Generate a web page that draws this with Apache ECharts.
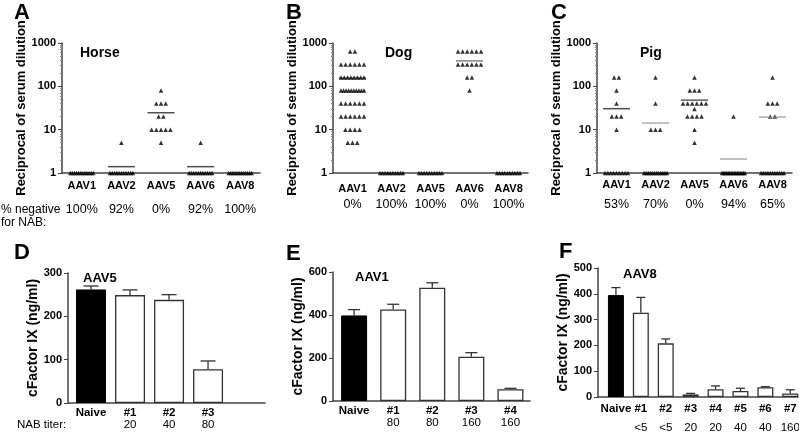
<!DOCTYPE html>
<html><head><meta charset="utf-8">
<script src="https://cdn.jsdelivr.net/npm/echarts@6/dist/echarts.min.js"></script>
<style>html,body{margin:0;padding:0;background:#fff}#c{width:799px;height:433px}</style>
</head><body><div id="c"></div>
<script>
// ---------- data ----------
const serotypes = ['AAV1','AAV2','AAV5','AAV6','AAV8'];
// per serotype: [reciprocal titer, number of animals]
const horseCounts = [
  [[1,12]],
  [[1,11],[5,1]],
  [[5,1],[10,5],[20,2],[40,3],[80,1]],
  [[1,11],[5,1]],
  [[1,12]]
];
const horseMeans = [null, 1.4, 24.6, 1.4, null];
const horseNeg = ['100%','92%','0%','92%','100%'];

const dogCounts = [
  [[5,3],[10,4],[20,6],[40,6],[80,10],[160,8],[320,6],[640,2]],
  [[1,10]],
  [[1,10]],
  [[80,1],[160,2],[320,6],[640,6]],
  [[1,10]]
];
const dogMeans = [154, null, null, 386, null];
const dogNeg = ['0%','100%','100%','0%','100%'];

const pigCounts = [
  [[1,9],[10,1],[20,3],[40,1],[80,1],[160,2]],
  [[1,12],[10,3],[40,1],[160,1]],
  [[5,1],[10,1],[20,4],[30,1],[40,6],[80,3],[160,1]],
  [[1,16],[20,1]],
  [[1,11],[20,2],[40,3],[160,1]]
];
const pigMeans = [30.5, 14.2, 48, 2.1, 19.5];
const pigNeg = ['53%','70%','0%','94%','65%'];

const dGroups = ['Naive','#1','#2','#3'];
const dTiter  = ['', '20', '40', '80'];
const dMean   = [262, 249, 238, 78];
const dSem    = [8, 12, 12, 19];

const eGroups = ['Naive','#1','#2','#3','#4'];
const eTiter  = ['', '80', '80', '160', '160'];
const eMean   = [398, 426, 527, 206, 55];
const eSem    = [27, 24, 23, 19, 4];

const fGroups = ['Naive','#1','#2','#3','#4','#5','#6','#7'];
const fTiter  = ['', '<5', '<5', '20', '20', '40', '40', '160'];
const fMean   = [395, 327, 208, 10, 30, 23, 38, 14];
const fSem    = [29, 59, 17, 4, 13, 11, 2, 14];

// ---------- styling ----------
const FF = '"Liberation Sans", Arial, sans-serif';
const AX = '#444';
const chart = echarts.init(document.getElementById('c'));

function dotData(counts){
  const out = [];
  counts.forEach((rows, i) => {
    rows.forEach(([t, n]) => {
      const s = n > 1 ? Math.min(4.7, 23/(n-1)) : 0;
      for (let k = 0; k < n; k++) out.push({value:[i, t], symbolOffset:[(k-(n-1)/2)*s, 0]});
    });
  });
  return out;
}
function meanData(means, colors){
  const out = [];
  means.forEach((m, i) => { if (m != null) out.push({value:[i, m], itemStyle:{color:colors[i]}}); });
  return out;
}

const grids = [
  {left:62, top:43, width:198, height:130},
  {left:333, top:43, width:195, height:130},
  {left:597, top:43, width:195, height:130},
  {left:68, top:273, width:197, height:130},
  {left:333, top:272, width:197, height:129},
  {left:598, top:268, width:200, height:129}
].map(g => Object.assign({outerBoundsMode:'none', containLabel:false}, g));

function catX(gi, neg, margin, pLH){
  return {
    type:'category', gridIndex:gi, data:serotypes,
    axisLine:{onZero:false, lineStyle:{color:AX, width:1.5}},
    axisTick:{alignWithLabel:true, length:3, lineStyle:{color:AX}},
    axisLabel:{margin:margin, interval:0,
      formatter:(v, i) => '{n|' + v + '}\n{p|' + neg[i] + '}',
      rich:{n:{fontFamily:FF, fontWeight:'bold', fontSize:11, lineHeight:12, color:'#000'},
            p:{fontFamily:FF, fontSize:12.5, lineHeight:pLH, color:'#000'}}}
  };
}
function logY(gi, gap){
  return {
    type:'log', logBase:10, gridIndex:gi, min:1, max:1000,
    name:'Reciprocal of serum dilution', nameLocation:'middle', nameGap:gap,
    nameTextStyle:{fontFamily:FF, fontWeight:'bold', fontSize:13, color:'#000'},
    axisLine:{show:true, onZero:false, lineStyle:{color:AX, width:1.5}},
    axisTick:{show:true, length:4, lineStyle:{color:AX}},
    minorTick:{show:true, splitNumber:9, length:2, lineStyle:{color:'#888'}},
    splitLine:{show:false},
    axisLabel:{fontFamily:FF, fontWeight:'bold', fontSize:11, color:'#000', margin:6,
      formatter:(v) => String(Math.round(v))}
  };
}
function valX(gi, min, max, groups, titers, margin, tLH){
  const cv = groups.map((g, i) => i);
  return {
    type:'value', gridIndex:gi, min:min, max:max,
    axisLine:{show:true, onZero:false, lineStyle:{color:AX, width:1.5}},
    axisTick:{show:false}, splitLine:{show:false},
    axisLabel:{customValues:cv, margin:margin,
      formatter:(v) => { const i = Math.round(v); return '{n|' + groups[i] + '}\n{t|' + (titers[i] || ' ') + '}'; },
      rich:{n:{fontFamily:FF, fontWeight:'bold', fontSize:11.5, lineHeight:12, color:'#000'},
            t:{fontFamily:FF, fontSize:11.5, lineHeight:tLH, color:'#000'}}}
  };
}
function barY(gi, max, interval, gap){
  return {
    type:'value', gridIndex:gi, min:0, max:max, interval:interval,
    name:'cFactor IX (ng/ml)', nameLocation:'middle', nameGap:gap,
    nameTextStyle:{fontFamily:FF, fontWeight:'bold', fontSize:14, color:'#000'},
    axisLine:{show:true, onZero:false, lineStyle:{color:AX, width:1.5}},
    axisTick:{show:true, length:4, lineStyle:{color:AX}},
    splitLine:{show:false},
    axisLabel:{fontFamily:FF, fontWeight:'bold', fontSize:11, color:'#000', margin:6}
  };
}
function dotSeries(idx, counts){
  return {type:'scatter', xAxisIndex:idx, yAxisIndex:idx, symbol:'triangle', symbolSize:4.5,
    itemStyle:{color:'#000'}, data:dotData(counts), z:3, silent:true};
}
function meanSeries(idx, means, colors){
  return {type:'scatter', xAxisIndex:idx, yAxisIndex:idx, symbol:'rect', symbolSize:[27,1.5],
    data:meanData(means, colors), z:4, silent:true};
}
function barSeries(idx, means, bw){
  return {type:'bar', xAxisIndex:idx, yAxisIndex:idx, barWidth:bw,
    data:means.map((m, i) => ({value:[i, m], itemStyle: i === 0
      ? {color:'#000', borderColor:'#000', borderWidth:1}
      : {color:'#fff', borderColor:'#333', borderWidth:1.3}})), z:2, silent:true};
}
function errSeries(idx, means, sems, cap){
  return {type:'custom', xAxisIndex:idx, yAxisIndex:idx, z:3, silent:true,
    data:means.map((m, i) => [i, m, sems[i]]),
    encode:{x:0, y:1},
    renderItem:(params, api) => {
      const x = api.value(0), m = api.value(1), e = api.value(2);
      const p0 = api.coord([x, m]), p1 = api.coord([x, m + e]);
      const st = {stroke:'#333', lineWidth:1.3};
      return {type:'group', children:[
        {type:'line', shape:{x1:p0[0], y1:p0[1], x2:p1[0], y2:p1[1]}, style:st},
        {type:'line', shape:{x1:p1[0]-cap/2, y1:p1[1], x2:p1[0]+cap/2, y2:p1[1]}, style:st}
      ]};
    }};
}

function txt(text, x, y, size, bold){
  return {type:'text', x:x, y:y, style:{text:text, fontFamily:FF, fontSize:size,
    fontWeight: bold ? 'bold' : 'normal', fill:'#000', textAlign:'left', textVerticalAlign:'middle',
    align:'left', verticalAlign:'middle'}};
}

const option = {
  animation:false,
  backgroundColor:'#fff',
  grid:grids,
  xAxis:[
    catX(0, horseNeg, 7, 36),
    catX(1, dogNeg, 10, 20),
    catX(2, pigNeg, 6, 28),
    valX(3, -0.59, 4.46, dGroups, dTiter, 4, 12),
    valX(4, -0.54, 4.5, eGroups, eTiter, 4, 12),
    valX(5, -0.72, 7.31, fGroups, fTiter, 6, 26)
  ],
  yAxis:[
    logY(0, 29), logY(1, 31), logY(2, 34),
    barY(3, 300, 100, 23), barY(4, 600, 200, 27), barY(5, 500, 100, 27)
  ],
  series:[
    dotSeries(0, horseCounts), meanSeries(0, horseMeans, ['#222','#222','#222','#222','#222']),
    dotSeries(1, dogCounts), meanSeries(1, dogMeans, ['#222','#666','#666','#666','#666']),
    dotSeries(2, pigCounts), meanSeries(2, pigMeans, ['#222','#999','#333','#999','#999']),
    barSeries(3, dMean, 30), errSeries(3, dMean, dSem, 15),
    barSeries(4, eMean, 26), errSeries(4, eMean, eSem, 12),
    barSeries(5, fMean, 16), errSeries(5, fMean, fSem, 9)
  ],
  graphic:[
    txt('A', 14, 13, 22, true), txt('B', 286, 13, 22, true), txt('C', 551, 13, 22, true),
    txt('D', 14, 253, 22, true), txt('E', 286, 254, 22, true), txt('F', 559, 252, 22, true),
    txt('Horse', 80, 53, 14, true), txt('Dog', 385, 53, 14, true), txt('Pig', 640, 53, 14, true),
    txt('AAV5', 83, 278, 13, true), txt('AAV1', 355, 277, 13, true), txt('AAV8', 623, 274, 13, true),
    txt('% negative', 1, 210, 12, false), txt('for NAB:', 1, 223, 12, false),
    txt('NAB titer:', 17, 425, 11.5, false)
  ]
};
chart.setOption(option);
</script></body></html>
